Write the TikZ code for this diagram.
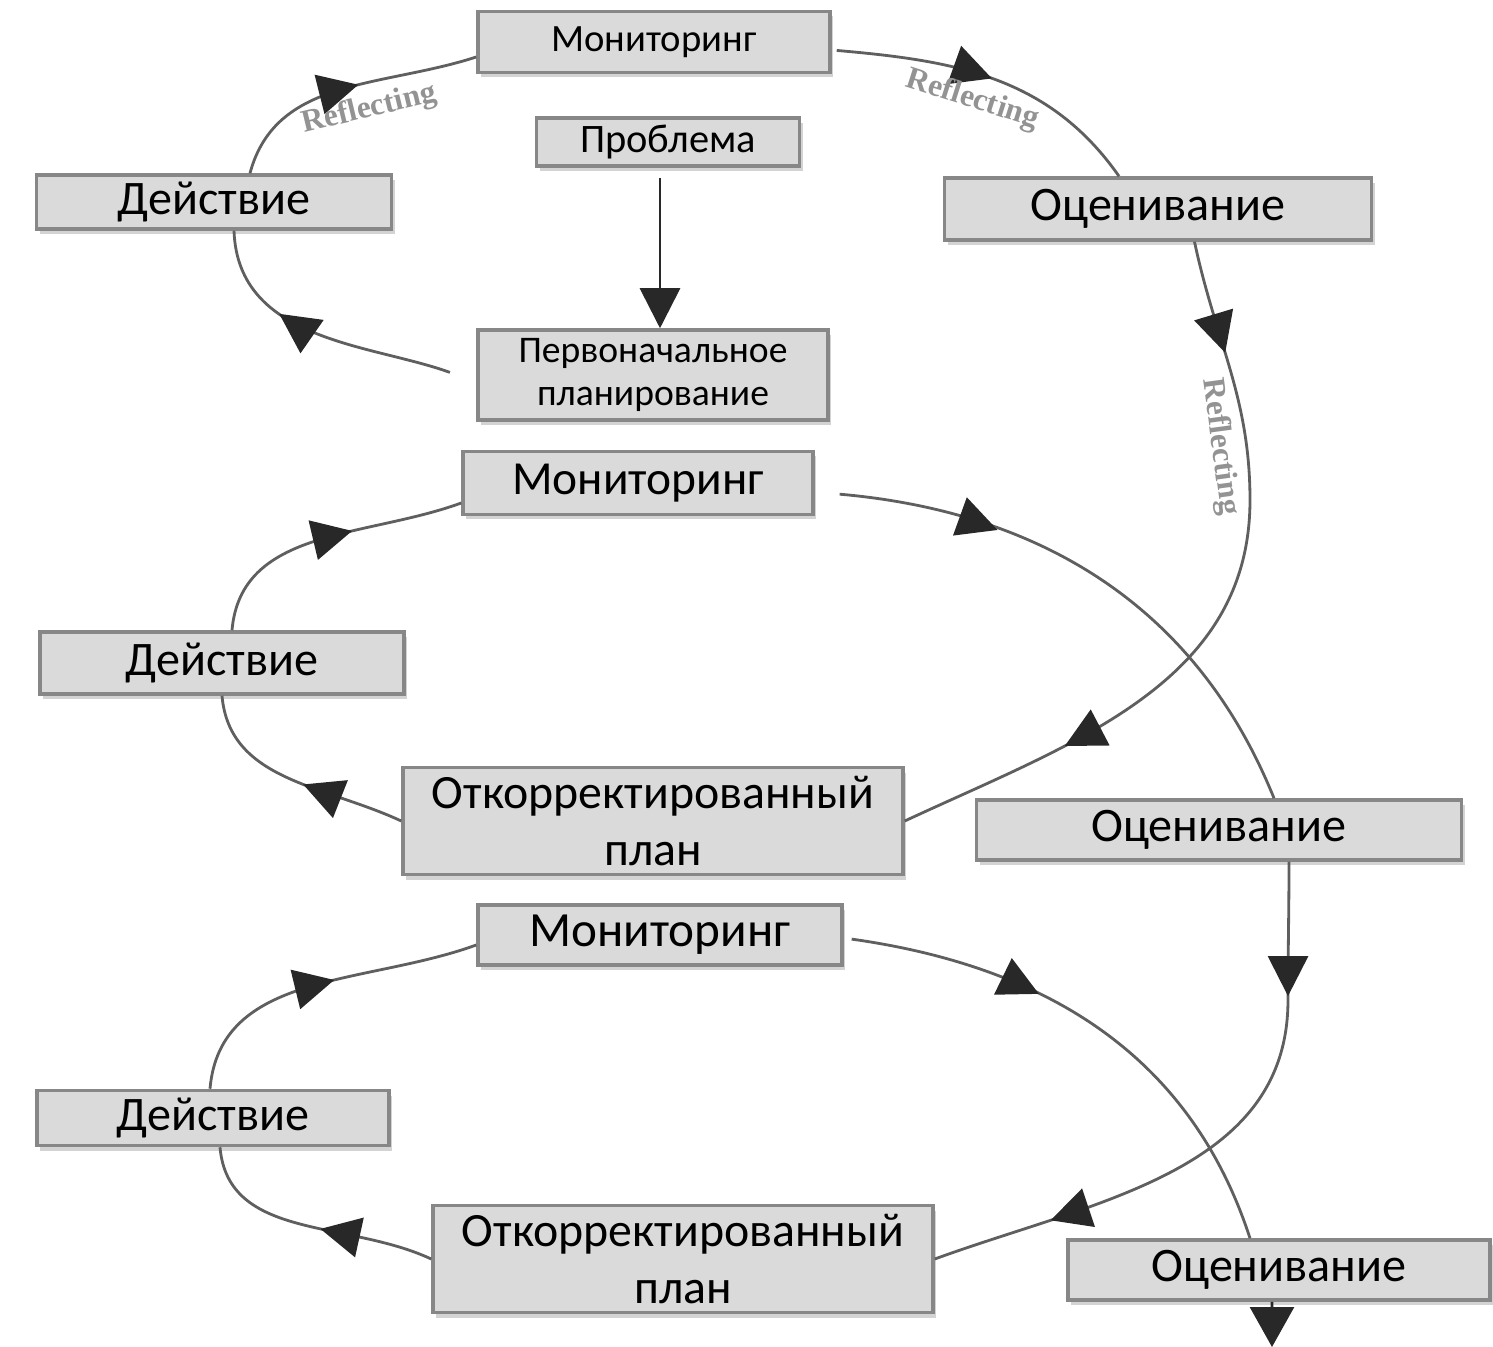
\documentclass[tikz,border=0pt]{standalone}
\usepackage{fontspec}
\setmainfont{Carlito}
\newfontfamily\reflfont{Liberation Serif}
\usetikzlibrary{arrows.meta,decorations.markings,shadows}
\definecolor{boxfill}{RGB}{218,218,218}
\definecolor{boxline}{RGB}{135,135,135}
\definecolor{flowgray}{RGB}{95,95,95}
\definecolor{tipgray}{RGB}{40,40,40}
\tikzstyle{stage}=[draw=boxline,fill=boxfill,line width=1pt,inner sep=0pt,align=center,
  drop shadow={shadow xshift=0.3mm,shadow yshift=-0.5mm,opacity=0.35}]
\tikzstyle{flow}=[draw=flowgray,line width=0.8pt]
\tikzstyle{refl}=[font=\reflfont\bfseries\small,text=gray!85,inner sep=3pt]
\tikzset{arrowat/.style={postaction={decorate,decoration={markings,
  mark=at position #1 with {\arrow[tipgray]{Triangle[length=4mm,width=4mm]}}}}}}

\begin{document}
\begin{tikzpicture}[x=0.1mm,y=0.1mm]
  \useasboundingbox (0,0) rectangle (1493,-1347);
  % first turn
  \node[stage,minimum width=35.2mm,minimum height=6.1mm,font=\fontsize{11}{13}\selectfont]   (mon_1)  at (654,-42)   {Мониторинг};
  \node[stage,minimum width=26.3mm,minimum height=4.8mm,font=\fontsize{11.5}{13}\selectfont] (prob)   at (668,-142)  {Проблема};
  \node[stage,minimum width=35.5mm,minimum height=5.4mm,font=\fontsize{13.7}{15}\selectfont] (act_1)  at (214,-202)  {Действие};
  \node[stage,minimum width=42.7mm,minimum height=6.2mm,font=\fontsize{13.7}{15}\selectfont] (eval_1) at (1158,-209) {Оценивание};
  \node[stage,minimum width=35mm,minimum height=9mm,font=\fontsize{10.7}{12.5}\selectfont]   (plan_0) at (653,-375)  {Первоначальное\\планирование};
  % second turn
  \node[stage,minimum width=35mm,minimum height=6.3mm,font=\fontsize{13.5}{15}\selectfont]   (mon_2)  at (638,-483)  {Мониторинг};
  \node[stage,minimum width=36.4mm,minimum height=6.2mm,font=\fontsize{13.7}{15}\selectfont] (act_2)  at (222,-663)  {Действие};
  \node[stage,minimum width=50mm,minimum height=10.7mm,font=\fontsize{13.6}{16.2}\selectfont] (plan_1) at (653,-821)  {Откорректированный\\план};
  \node[stage,minimum width=48.5mm,minimum height=6mm,font=\fontsize{13.7}{15}\selectfont]   (eval_2) at (1219,-830) {Оценивание};
  % third turn
  \node[stage,minimum width=36.4mm,minimum height=6mm,font=\fontsize{14}{15}\selectfont]     (mon_3)  at (660,-935)  {Мониторинг};
  \node[stage,minimum width=35.2mm,minimum height=5.5mm,font=\fontsize{13.7}{15}\selectfont] (act_3)  at (213,-1118) {Действие};
  \node[stage,minimum width=50mm,minimum height=10.7mm,font=\fontsize{13.6}{16.2}\selectfont] (plan_2) at (683,-1259) {Откорректированный\\план};
  \node[stage,minimum width=42.2mm,minimum height=6mm,font=\fontsize{13.7}{15}\selectfont]   (eval_3) at (1279,-1270) {Оценивание};

  \coordinate (bend_1) at (1250,-500);
  \coordinate (bend_2) at (1288,-1000);
  \coordinate (out_3)  at (1272,-1347);

  \path[flow]
    ([xshift=3.6mm]act_1.north) edge[out=75,in=198,arrowat=0.55] node[refl,sloped,below,pos=0.6] {Reflecting} ([yshift=-1.5mm]mon_1.west)
    ([yshift=-0.8mm]mon_1.east) edge[out=-5,in=125,arrowat=0.5,shorten <=0.5mm] node[refl,sloped,below,pos=0.45] {Reflecting} ([xshift=-3.9mm]eval_1.north)
    ([yshift=-0.7mm]plan_0.west) edge[out=160,in=-88,arrowat=0.68,shorten <=2.8mm] ([xshift=2mm]act_1.south)
    ([xshift=-0.8mm]prob.south) edge[-{Triangle[length=4mm,width=4mm]},shorten <=1mm,tipgray] ([xshift=-0.8mm]prob.south |- plan_0.north)
    (plan_1.west) edge[out=155,in=-85,arrowat=0.45] (act_2.south)
    ([xshift=1mm]act_2.north) edge[out=85,in=200,arrowat=0.6] ([yshift=-2mm]mon_2.west)
    ([yshift=-0.9mm]mon_2.east) edge[out=-5,in=112,arrowat=0.32,shorten <=2.5mm] ([xshift=5.5mm]eval_2.north)
    (plan_2.west) edge[out=155,in=-85,arrowat=0.45] ([xshift=0.7mm]act_3.south)
    ([xshift=-0.3mm]act_3.north) edge[out=85,in=200,arrowat=0.55] ([yshift=-1mm]mon_3.west)
    ([yshift=-0.3mm]mon_3.east) edge[out=-8,in=108,arrowat=0.38,shorten <=0.8mm] ([xshift=-2.9mm]eval_3.north)
    ([xshift=-0.7mm]eval_3.south) edge[-{Triangle[length=4mm,width=4.4mm]},tipgray] (out_3);

  \draw[flow,arrowat=0.15,arrowat=0.77]
    ([xshift=3.65mm]eval_1.south) to[out=-78,in=90] node[refl,sloped,below,pos=0.8] {Reflecting} (bend_1)
    to[out=-90,in=25] (plan_1.east);
  \draw[flow,arrowat=0.22,arrowat=0.8]
    ([xshift=7mm]eval_2.south) to[out=-90,in=90] (bend_2)
    to[out=-90,in=20] (plan_2.east);
\end{tikzpicture}
\end{document}
